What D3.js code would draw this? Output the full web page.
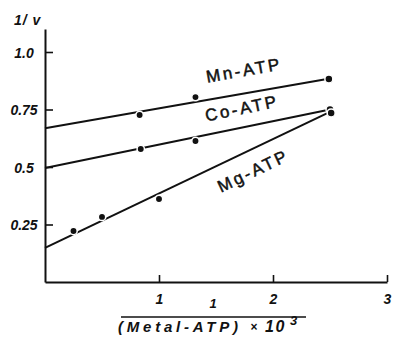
<!DOCTYPE html>
<html>
<head>
<meta charset="utf-8">
<script src="https://cdn.jsdelivr.net/npm/d3@7"></script>
<style>
  body { margin: 0; background: #fff; }
  text { fill: #111; }
</style>
</head>
<body>
<script>
// series names
var names = ["Mn-ATP", "Co-ATP", "Mg-ATP"];
// fitted lines: value at x = 0 and at x = 2.5
var lineX = [0, 2.5];
var lineY = [[0.668, 0.885], [0.496, 0.750], [0.148, 0.740]];
// measured points (1/(Metal-ATP) x 10^3, 1/v)
var ptsX = [[0.83, 1.32, 2.49], [0.84, 1.32, 2.50], [0.25, 0.50, 1.00, 2.51]];
var ptsY = [[0.726, 0.804, 0.883], [0.578, 0.613, 0.750], [0.222, 0.283, 0.361, 0.735]];
// tick labels
var yTicks = [0.25, 0.5, 0.75, 1.0];
var yLabels = ["0.25", "0.5", "0.75", "1.0"];
var xTicks = [1, 2, 3];
var xLabels = ["1", "2", "3"];

var width = 394, height = 337;

var svg = d3.select("body").append("svg")
    .attr("width", width)
    .attr("height", height);

var x = d3.scaleLinear().domain([0, 3]).range([45, 387]);
var y = d3.scaleLinear().domain([0, 1.1]).range([282, 29]);

var font = "'Liberation Sans', Arial, sans-serif";

// y axis, ticks pointing inward
var yAxis = svg.append("g")
    .attr("transform", "translate(" + x(0) + ",0)")
    .call(d3.axisLeft(y)
        .tickValues(yTicks)
        .tickFormat(function (d, i) { return yLabels[i]; })
        .tickSizeInner(-8)
        .tickSizeOuter(0)
        .tickPadding(21));

// x axis, ticks pointing up
var xAxis = svg.append("g")
    .attr("transform", "translate(0," + y(0) + ")")
    .call(d3.axisBottom(x)
        .tickValues(xTicks)
        .tickFormat(function (d, i) { return xLabels[i]; })
        .tickSizeInner(-7)
        .tickSizeOuter(0)
        .tickPadding(12));

svg.selectAll(".domain").attr("stroke", "#111").attr("stroke-width", 2);
svg.selectAll(".tick line").attr("stroke", "#111").attr("stroke-width", 1.6);
svg.selectAll(".tick text")
    .attr("font-family", font)
    .attr("font-style", "italic")
    .attr("font-weight", "bold")
    .attr("font-size", 14)
    .attr("fill", "#111");
yAxis.selectAll(".tick text")
    .attr("text-anchor", "middle")
    .attr("dy", "0.36em");

// axis titles
svg.append("text")
    .attr("x", 14)
    .attr("y", 25)
    .attr("font-family", font)
    .attr("font-style", "italic")
    .attr("font-weight", "bold")
    .attr("font-size", 14)
    .attr("letter-spacing", 1)
    .attr("xml:space", "preserve")
    .text("1/ v");

svg.append("text")
    .attr("x", 213)
    .attr("y", 308)
    .attr("text-anchor", "middle")
    .attr("font-family", font)
    .attr("font-style", "italic")
    .attr("font-weight", "bold")
    .attr("font-size", 13)
    .text("1");

svg.append("line")
    .attr("x1", 121).attr("x2", 306)
    .attr("y1", 317).attr("y2", 317)
    .attr("stroke", "#111")
    .attr("stroke-width", 1.6);

svg.append("text")
    .attr("x", 118)
    .attr("y", 332)
    .attr("font-family", font)
    .attr("font-style", "italic")
    .attr("font-weight", "bold")
    .attr("font-size", 15)
    .attr("textLength", 120)
    .attr("lengthAdjust", "spacing")
    .text("(Metal-ATP)");

svg.append("text")
    .attr("x", 254)
    .attr("y", 331)
    .attr("text-anchor", "middle")
    .attr("font-family", font)
    .attr("font-weight", "bold")
    .attr("font-size", 12)
    .text("\u00d7");

svg.append("text")
    .attr("x", 265)
    .attr("y", 332)
    .attr("font-family", font)
    .attr("font-style", "italic")
    .attr("font-weight", "bold")
    .attr("font-size", 16)
    .attr("letter-spacing", 1.5)
    .text("10");

svg.append("text")
    .attr("x", 290)
    .attr("y", 325)
    .attr("font-family", font)
    .attr("font-style", "italic")
    .attr("font-weight", "bold")
    .attr("font-size", 13)
    .text("3");

// fitted lines
var line = d3.line()
    .x(function (d) { return x(d[0]); })
    .y(function (d) { return y(d[1]); });

names.forEach(function (name, i) {
    svg.append("path")
        .attr("d", line(lineX.map(function (v, j) { return [v, lineY[i][j]]; })))
        .attr("fill", "none")
        .attr("stroke", "#111")
        .attr("stroke-width", 2);
});

// points, with a white ring that breaks the line like the print
names.forEach(function (name, i) {
    svg.selectAll(".pt" + i)
        .data(ptsX[i].map(function (v, j) { return [v, ptsY[i][j]]; }))
        .enter().append("circle")
        .attr("class", "pt" + i)
        .attr("cx", function (d) { return x(d[0]); })
        .attr("cy", function (d) { return y(d[1]); })
        .attr("r", function (d) { return d[0] > 2.4 ? 4 : 3.7; })
        .attr("fill", "#111")
        .attr("stroke", "#fff")
        .attr("stroke-width", 1.5);
});

// series labels, laid along their lines
var labelAt = [1.78, 1.76, 1.75];
var labelOff = [-17, -13, 26];
names.forEach(function (name, i) {
    var x0 = x(lineX[0]), y0 = y(lineY[i][0]);
    var x1 = x(lineX[1]), y1 = y(lineY[i][1]);
    var ang = Math.atan2(y1 - y0, x1 - x0);
    var t = (x(labelAt[i]) - x0) / (x1 - x0);
    var px = x0 + t * (x1 - x0), py = y0 + t * (y1 - y0);
    // offset perpendicular to the line
    px += -Math.sin(ang) * labelOff[i];
    py += Math.cos(ang) * labelOff[i];
    svg.append("text")
        .attr("transform", "translate(" + px + "," + py + ") rotate(" + (ang * 180 / Math.PI) + ")")
        .attr("text-anchor", "middle")
        .attr("font-family", font)
        .attr("font-size", 17)
        .attr("letter-spacing", 2.6)
        .attr("stroke", "#111")
        .attr("stroke-width", 0.5)
        .text(name);
});
</script>
</body>
</html>
